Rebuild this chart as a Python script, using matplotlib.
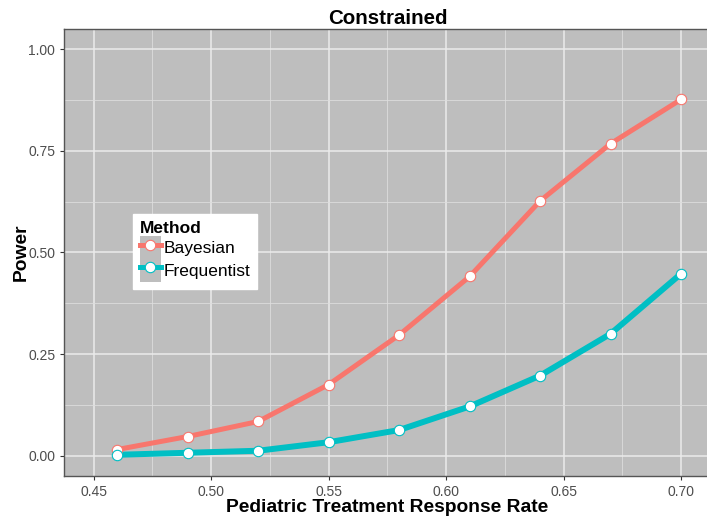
import matplotlib.pyplot as plt
from matplotlib.lines import Line2D
from matplotlib.patches import Rectangle
from matplotlib.legend_handler import HandlerTuple

plt.rcParams['font.family'] = ['Liberation Sans', 'DejaVu Sans']

# response rates and estimated power
response_rate = [0.46, 0.49, 0.52, 0.55, 0.58, 0.61, 0.64, 0.67, 0.70]
bayesian = [0.015, 0.047, 0.084, 0.175, 0.297, 0.441, 0.627, 0.768, 0.877]
frequentist = [0.002, 0.007, 0.012, 0.033, 0.063, 0.121, 0.197, 0.300, 0.448]
methods = ["Bayesian", "Frequentist"]
colors = ["#F8766D", "#00BFC4"]

fig = plt.figure(figsize=(7.07, 5.19), dpi=100)
ax = fig.add_axes([0.091, 0.083, 0.914, 0.861])
ax.set_facecolor("#BEBEBE")

# grid like ggplot
for v in [0.45, 0.50, 0.55, 0.60, 0.65, 0.70]:
    ax.axvline(v, color="#EBEBEB", lw=1.1, zorder=0)
for v in [0.475, 0.525, 0.575, 0.625, 0.675]:
    ax.axvline(v, color="#DDDDDD", lw=0.6, zorder=0)
for v in [0, 0.25, 0.5, 0.75, 1.0]:
    ax.axhline(v, color="#EBEBEB", lw=1.1, zorder=0)
for v in [0.125, 0.375, 0.625, 0.875]:
    ax.axhline(v, color="#DDDDDD", lw=0.6, zorder=0)

series = [bayesian, frequentist]
widths = [3.6, 4.3]
for vals, col, lw in zip(series, colors, widths):
    ax.plot(response_rate, vals, color=col, lw=lw, zorder=2, solid_capstyle="butt")
    ax.plot(response_rate, vals, ls="none", marker="o", ms=7.5, mfc="white",
            mec=col, mew=0.8, zorder=3)

ax.set_xlim(0.4375, 0.7125)
ax.set_ylim(-0.05, 1.05)
ax.set_xticks([0.45, 0.50, 0.55, 0.60, 0.65, 0.70])
ax.set_xticklabels(["0.45", "0.50", "0.55", "0.60", "0.65", "0.70"])
ax.set_yticks([0, 0.25, 0.5, 0.75, 1.0])
ax.set_yticklabels(["0.00", "0.25", "0.50", "0.75", "1.00"])
ax.tick_params(labelsize=10, colors="#333333", labelcolor="#4D4D4D", length=3, width=0.8)
for s in ax.spines.values():
    s.set_color("#555555")
    s.set_linewidth(1)

ax.set_title("Constrained", fontsize=14.8, fontweight="bold", pad=4)
ax.set_xlabel("Pediatric Treatment Response Rate", fontsize=13.9, fontweight="bold", labelpad=0)
ax.set_ylabel("Power", fontsize=13.9, fontweight="bold", labelpad=-1)

handles = []
for c in colors:
    bg = Rectangle((0, 0), 1, 1, facecolor="#BEBEBE", edgecolor="none")
    ln = Line2D([], [], color=c, lw=3.6, marker="o", ms=7.5, mfc="white", mec=c, mew=0.8)
    handles.append((bg, ln))
leg = ax.legend(handles, methods, title="Method", loc="upper left",
                bbox_to_anchor=(0.106, 0.586), borderaxespad=0, frameon=True,
                fontsize=12.5, framealpha=1,
                title_fontproperties={"weight": "bold", "size": 12.5},
                handler_map={tuple: HandlerTuple(ndivide=1, pad=0)},
                handlelength=1.2, handleheight=1.65, handletextpad=0.15, borderpad=0.4,
                labelspacing=0.0, fancybox=False, edgecolor="white")
leg._legend_box.align = "left"

fig.savefig("out.png", dpi=100)
